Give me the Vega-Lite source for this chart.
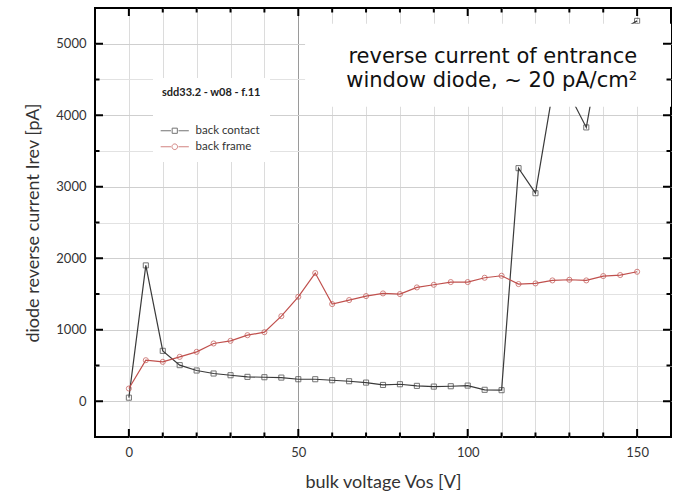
{
  "$schema": "https://vega.github.io/schema/vega-lite/v6.json",
  "width": 576,
  "height": 429,
  "autosize": "none",
  "padding": {"left": 95, "top": 8, "right": 11, "bottom": 59},
  "background": "white",
  "config": {
    "view": {"stroke": "#000", "strokeWidth": 2},
    "axis": {
      "domain": false,
      "labelFont": "Lato",
      "titleFont": "Lato",
      "labelColor": "#333",
      "titleColor": "#333",
      "labelFontSize": 13,
      "titleFontSize": 18,
      "titleFontWeight": "normal"
    },
    "legend": {
      "titleFont": "Lato",
      "labelFont": "Lato"
    }
  },
  "datasets": {
    "xticks": [
      {"v": 0}, {"v": 10}, {"v": 20}, {"v": 30}, {"v": 40}, {"v": 50}, {"v": 60}, {"v": 70},
      {"v": 80}, {"v": 90}, {"v": 100}, {"v": 110}, {"v": 120}, {"v": 130}, {"v": 140}, {"v": 150}
    ],
    "yticks": [
      {"v": 0}, {"v": 500}, {"v": 1000}, {"v": 1500}, {"v": 2000}, {"v": 2500},
      {"v": 3000}, {"v": 3500}, {"v": 4000}, {"v": 4500}, {"v": 5000}
    ],
    "iv": [
      {"V": 0, "series": "back contact", "I": 50},
      {"V": 5, "series": "back contact", "I": 1900},
      {"V": 10, "series": "back contact", "I": 705},
      {"V": 15, "series": "back contact", "I": 505},
      {"V": 20, "series": "back contact", "I": 430},
      {"V": 25, "series": "back contact", "I": 388},
      {"V": 30, "series": "back contact", "I": 364},
      {"V": 35, "series": "back contact", "I": 341},
      {"V": 40, "series": "back contact", "I": 336},
      {"V": 45, "series": "back contact", "I": 331},
      {"V": 50, "series": "back contact", "I": 308},
      {"V": 55, "series": "back contact", "I": 308},
      {"V": 60, "series": "back contact", "I": 294},
      {"V": 65, "series": "back contact", "I": 280},
      {"V": 70, "series": "back contact", "I": 261},
      {"V": 75, "series": "back contact", "I": 228},
      {"V": 80, "series": "back contact", "I": 238},
      {"V": 85, "series": "back contact", "I": 215},
      {"V": 90, "series": "back contact", "I": 205},
      {"V": 95, "series": "back contact", "I": 210},
      {"V": 100, "series": "back contact", "I": 219},
      {"V": 105, "series": "back contact", "I": 160},
      {"V": 110, "series": "back contact", "I": 155},
      {"V": 115, "series": "back contact", "I": 3260},
      {"V": 120, "series": "back contact", "I": 2910},
      {"V": 125, "series": "back contact", "I": 4310},
      {"V": 130, "series": "back contact", "I": 4290},
      {"V": 135, "series": "back contact", "I": 3830},
      {"V": 140, "series": "back contact", "I": 5150},
      {"V": 145, "series": "back contact", "I": 5180},
      {"V": 150, "series": "back contact", "I": 5320},
      {"V": 0, "series": "back frame", "I": 178},
      {"V": 5, "series": "back frame", "I": 574},
      {"V": 10, "series": "back frame", "I": 551},
      {"V": 15, "series": "back frame", "I": 621},
      {"V": 20, "series": "back frame", "I": 691},
      {"V": 25, "series": "back frame", "I": 808},
      {"V": 30, "series": "back frame", "I": 845},
      {"V": 35, "series": "back frame", "I": 924},
      {"V": 40, "series": "back frame", "I": 966},
      {"V": 45, "series": "back frame", "I": 1190},
      {"V": 50, "series": "back frame", "I": 1461},
      {"V": 55, "series": "back frame", "I": 1793},
      {"V": 60, "series": "back frame", "I": 1359},
      {"V": 65, "series": "back frame", "I": 1415},
      {"V": 70, "series": "back frame", "I": 1471},
      {"V": 75, "series": "back frame", "I": 1508},
      {"V": 80, "series": "back frame", "I": 1499},
      {"V": 85, "series": "back frame", "I": 1592},
      {"V": 90, "series": "back frame", "I": 1629},
      {"V": 95, "series": "back frame", "I": 1667},
      {"V": 100, "series": "back frame", "I": 1667},
      {"V": 105, "series": "back frame", "I": 1727},
      {"V": 110, "series": "back frame", "I": 1755},
      {"V": 115, "series": "back frame", "I": 1639},
      {"V": 120, "series": "back frame", "I": 1648},
      {"V": 125, "series": "back frame", "I": 1690},
      {"V": 130, "series": "back frame", "I": 1699},
      {"V": 135, "series": "back frame", "I": 1690},
      {"V": 140, "series": "back frame", "I": 1751},
      {"V": 145, "series": "back frame", "I": 1765},
      {"V": 150, "series": "back frame", "I": 1811}
    ]
  },
  "resolve": {
    "axis": {"x": "independent", "y": "independent"},
    "scale": {"shape": "independent", "size": "independent"},
    "legend": {"color": "independent", "shape": "independent"}
  },
  "layer": [
    {
      "data": {"name": "iv"},
      "mark": {"type": "line", "strokeWidth": 1.2, "clip": true},
      "encoding": {
        "x": {
          "field": "V", "type": "quantitative",
          "scale": {"domain": [-10, 160], "nice": false, "zero": false},
          "axis": {
            "orient": "bottom",
            "values": [0, 10, 20, 30, 40, 50, 60, 70, 80, 90, 100, 110, 120, 130, 140, 150],
            "labelExpr": "datum.value % 50 === 0 ? datum.label : ''",
            "grid": true,
            "gridColor": {"condition": {"test": "datum.value === 50", "value": "#9a9a9a"}, "value": "#dcdcdc"},
            "ticks": false,
            "labelPadding": 9,
            "title": "bulk voltage Vos [V]",
            "titlePadding": 14
          }
        },
        "y": {
          "field": "I", "type": "quantitative",
          "scale": {"domain": [-500, 5500], "nice": false, "zero": false},
          "axis": {
            "orient": "left",
            "values": [0, 500, 1000, 1500, 2000, 2500, 3000, 3500, 4000, 4500, 5000],
            "labelExpr": "datum.value % 1000 === 0 ? datum.label : ''",
            "format": "d",
            "grid": true,
            "gridColor": {"condition": {"test": "datum.value % 1000 === 0", "value": "#cfcfcf"}, "value": "#e2e2e2"},
            "ticks": false,
            "labelPadding": 9,
            "title": "diode reverse current Irev [pA]",
            "titlePadding": 13
          }
        },
        "color": {
          "field": "series", "type": "nominal",
          "scale": {"domain": ["back contact", "back frame"], "range": ["#3a3a3a", "#c0504d"]},
          "legend": null
        },
        "detail": {"field": "series"}
      }
    },
    {
      "data": {"name": "iv"},
      "mark": {"type": "point", "filled": false, "size": 26, "strokeWidth": 1, "clip": true},
      "encoding": {
        "x": {"field": "V", "type": "quantitative", "axis": null},
        "y": {"field": "I", "type": "quantitative", "axis": null},
        "color": {
          "field": "series", "type": "nominal",
          "scale": {"domain": ["back contact", "back frame"], "range": ["#3a3a3a", "#c0504d"]},
          "legend": null
        },
        "shape": {
          "field": "series", "type": "nominal",
          "scale": {"domain": ["back contact", "back frame"], "range": ["square", "circle"]},
          "legend": null
        }
      }
    },
    {
      "data": {"name": "iv"},
      "transform": [{"filter": "datum.V < -100"}],
      "mark": {"type": "point", "filled": false, "size": 22, "strokeWidth": 1},
      "encoding": {
        "x": {"field": "V", "type": "quantitative", "axis": null},
        "y": {"field": "I", "type": "quantitative", "axis": null},
        "color": {
          "field": "series", "type": "nominal",
          "scale": {"domain": ["back contact", "back frame"], "range": ["#3a3a3a", "#c0504d"]},
          "legend": {
            "title": "sdd33.2 - w08 - f.11",
            "orient": "none",
            "legendX": 58,
            "legendY": 70,
            "fillColor": "white",
            "padding": 9,
            "titleFontSize": 11,
            "titleFontWeight": "bold",
            "titleColor": "#222",
            "titlePadding": 27,
            "labelFontSize": 11.5,
            "labelColor": "#333",
            "rowPadding": 3,
            "symbolSize": 22,
            "symbolStrokeWidth": 1,
            "symbolOffset": 7,
            "labelOffset": 15
          }
        },
        "shape": {
          "field": "series", "type": "nominal",
          "scale": {
            "domain": ["back contact", "back frame"],
            "range": [
              "M-6,0H-1.6M1.6,0H6M-1.1,-1.1H1.1V1.1H-1.1Z",
              "M-6,0H-1.6M1.6,0H6M-1.2,0A1.2,1.2 0 1,0 1.2,0A1.2,1.2 0 1,0 -1.2,0Z"
            ]
          },
          "legend": {
            "title": "sdd33.2 - w08 - f.11",
            "orient": "none",
            "legendX": 58,
            "legendY": 70,
            "fillColor": "white",
            "padding": 9,
            "titleFontSize": 11,
            "titleFontWeight": "bold",
            "titleColor": "#222",
            "titlePadding": 27,
            "labelFontSize": 11.5,
            "labelColor": "#333",
            "rowPadding": 3,
            "symbolSize": 22,
            "symbolStrokeWidth": 1,
            "symbolOffset": 7,
            "labelOffset": 15
          }
        }
      }
    },
    {
      "data": {"values": [{}]},
      "mark": {"type": "rect", "fill": "white"},
      "encoding": {
        "x": {"datum": 52, "type": "quantitative", "axis": null},
        "x2": {"datum": 160},
        "y": {"datum": 4118, "type": "quantitative", "axis": null},
        "y2": {"datum": 5280}
      }
    },
    {
      "data": {"values": [{}]},
      "mark": {"type": "text", "align": "right", "baseline": "alphabetic", "font": "DejaVu Sans", "fontSize": 21, "color": "#111"},
      "encoding": {
        "x": {"datum": 150, "type": "quantitative", "axis": null},
        "y": {"datum": 4734, "type": "quantitative", "axis": null},
        "text": {"value": "reverse current of entrance"}
      }
    },
    {
      "data": {"values": [{}]},
      "mark": {"type": "text", "align": "right", "baseline": "alphabetic", "font": "DejaVu Sans", "fontSize": 21, "color": "#111"},
      "encoding": {
        "x": {"datum": 150, "type": "quantitative", "axis": null},
        "y": {"datum": 4398, "type": "quantitative", "axis": null},
        "text": {"value": "window diode, ~ 20 pA/cm²"}
      }
    },
    {
      "data": {"name": "xticks"},
      "mark": {"type": "tick", "orient": "vertical", "color": "black", "opacity": 1, "thickness": 2, "clip": true},
      "encoding": {
        "x": {"field": "v", "type": "quantitative", "axis": null},
        "y": {"datum": -500, "type": "quantitative", "axis": null},
        "size": {"condition": {"test": "datum.v % 50 === 0", "value": 16}, "value": 9}
      }
    },
    {
      "data": {"name": "xticks"},
      "mark": {"type": "tick", "orient": "vertical", "color": "black", "opacity": 1, "thickness": 2, "clip": true},
      "encoding": {
        "x": {"field": "v", "type": "quantitative", "axis": null},
        "y": {"datum": 5500, "type": "quantitative", "axis": null},
        "size": {"condition": {"test": "datum.v % 50 === 0", "value": 16}, "value": 9}
      }
    },
    {
      "data": {"name": "yticks"},
      "mark": {"type": "tick", "orient": "horizontal", "color": "black", "opacity": 1, "thickness": 2, "clip": true},
      "encoding": {
        "y": {"field": "v", "type": "quantitative", "axis": null},
        "x": {"datum": -10, "type": "quantitative", "axis": null},
        "size": {"condition": {"test": "datum.v % 1000 === 0", "value": 16}, "value": 9}
      }
    },
    {
      "data": {"name": "yticks"},
      "mark": {"type": "tick", "orient": "horizontal", "color": "black", "opacity": 1, "thickness": 2, "clip": true},
      "encoding": {
        "y": {"field": "v", "type": "quantitative", "axis": null},
        "x": {"datum": 160, "type": "quantitative", "axis": null},
        "size": {"condition": {"test": "datum.v % 1000 === 0", "value": 16}, "value": 9}
      }
    }
  ]
}
